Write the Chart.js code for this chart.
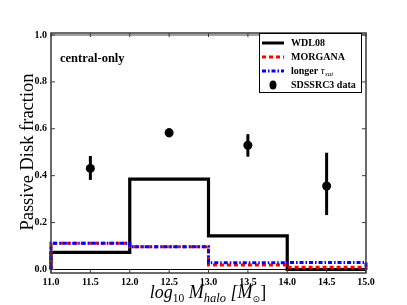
<!DOCTYPE html>
<html>
<head>
<meta charset="utf-8">
<script src="https://cdn.jsdelivr.net/npm/chart.js@4"></script>
<style>
  html, body { margin: 0; padding: 0; background: #fff; }
  #wrap { width: 407px; height: 305px; }
</style>
</head>
<body>
<div id="wrap"><canvas id="chart" width="407" height="305"></canvas></div>
<script>
// bin edges in log10 M_halo and the model fractions per bin
const binEdges = [11, 12, 13, 14, 15];
const wdl08 = [0.073, 0.385, 0.143, 0.0];
const morgana = [0.112, 0.097, 0.019, 0.009];
const longerTsat = [0.112, 0.097, 0.029, 0.030];

// SDSS data points with error bars
const sdssX = [11.5, 12.5, 13.5, 14.5];
const sdssY = [0.431, 0.583, 0.530, 0.356];
const sdssLo = [0.382, 0.564, 0.481, 0.232];
const sdssHi = [0.484, 0.602, 0.577, 0.498];

const xTicks = [11.0, 11.5, 12.0, 12.5, 13.0, 13.5, 14.0, 14.5, 15.0];
const yTicks = [0.0, 0.2, 0.4, 0.6, 0.8, 1.0];

const SERIF = '"Liberation Serif", "DejaVu Serif", serif';

function stepPoints(edges, vals) {
    const pts = [{ x: edges[0], y: 0 }];
    for (let i = 0; i < vals.length; i++) pts.push({ x: edges[i], y: vals[i] });
    pts.push({ x: edges[edges.length - 1], y: vals[vals.length - 1] });
    pts.push({ x: edges[edges.length - 1], y: 0 });
    return pts;
}

const blueDash = [4, 2, 1.5, 2];
const redDash = [4, 3];

const extras = {
    id: 'extras',
    beforeDatasetsDraw(chart) {
        const ctx = chart.ctx, xs = chart.scales.x, ys = chart.scales.y;
        ctx.save();
        // gray line at 1.0
        ctx.strokeStyle = '#a0a0a0';
        ctx.lineWidth = 2;
        ctx.beginPath();
        ctx.moveTo(xs.getPixelForValue(binEdges[0]), ys.getPixelForValue(1.0));
        ctx.lineTo(xs.getPixelForValue(binEdges[binEdges.length - 1]), ys.getPixelForValue(1.0));
        ctx.stroke();
        // closing edge of the WDL08 histogram
        ctx.strokeStyle = '#000';
        ctx.lineWidth = 1.2;
        ctx.beginPath();
        ctx.moveTo(xs.getPixelForValue(binEdges[0]), ys.getPixelForValue(0));
        ctx.lineTo(xs.getPixelForValue(binEdges[binEdges.length - 1]), ys.getPixelForValue(0));
        ctx.stroke();
        // error bars
        ctx.lineWidth = 3;
        for (let i = 0; i < sdssX.length; i++) {
            const px = xs.getPixelForValue(sdssX[i]);
            ctx.beginPath();
            ctx.moveTo(px, ys.getPixelForValue(sdssLo[i]));
            ctx.lineTo(px, ys.getPixelForValue(sdssHi[i]));
            ctx.stroke();
        }
        ctx.restore();
    },
    afterDraw(chart) {
        const ctx = chart.ctx, a = chart.chartArea, xs = chart.scales.x, ys = chart.scales.y;
        ctx.save();
        // frame
        ctx.strokeStyle = '#3a3a3a';
        ctx.lineWidth = 1.5;
        ctx.strokeRect(a.left, a.top, a.right - a.left, a.bottom - a.top);
        // inward ticks on all sides
        ctx.lineWidth = 1;
        ctx.beginPath();
        xTicks.forEach(v => {
            const px = xs.getPixelForValue(v);
            ctx.moveTo(px, a.bottom); ctx.lineTo(px, a.bottom - 4);
            ctx.moveTo(px, a.top); ctx.lineTo(px, a.top + 4);
        });
        yTicks.forEach(v => {
            const py = ys.getPixelForValue(v);
            ctx.moveTo(a.left, py); ctx.lineTo(a.left + 4, py);
            ctx.moveTo(a.right, py); ctx.lineTo(a.right - 4, py);
        });
        ctx.stroke();

        // panel label
        ctx.fillStyle = '#000';
        ctx.font = 'bold 12.5px ' + SERIF;
        ctx.textBaseline = 'alphabetic';
        ctx.textAlign = 'left';
        ctx.fillText('central-only', 60, 62);

        // legend
        const lx = 259, ly = 33, lw = 102, lh = 59;
        ctx.fillStyle = '#fff';
        ctx.fillRect(lx, ly, lw, lh);
        ctx.strokeStyle = '#000';
        ctx.lineWidth = 1;
        ctx.strokeRect(lx + 0.5, ly + 0.5, lw, lh);
        const rows = [
            { label: 'WDL08', color: '#000', dash: [] },
            { label: 'MORGANA', color: '#ff0000', dash: redDash },
            { label: 'longer', color: '#0000ff', dash: blueDash, tau: true },
            { label: 'SDSSRC3 data', dot: true }
        ];
        rows.forEach((r, i) => {
            const cy = 43 + i * 14;
            if (r.dot) {
                ctx.fillStyle = '#000';
                ctx.beginPath();
                ctx.ellipse(273, cy, 3.5, 4.5, 0, 0, Math.PI * 2);
                ctx.fill();
            } else {
                ctx.strokeStyle = r.color;
                ctx.lineWidth = 3;
                ctx.setLineDash(r.dash);
                ctx.beginPath();
                ctx.moveTo(262, cy);
                ctx.lineTo(284, cy);
                ctx.stroke();
                ctx.setLineDash([]);
            }
            ctx.fillStyle = '#000';
            ctx.font = 'bold 10px ' + SERIF;
            ctx.textBaseline = 'middle';
            ctx.fillText(r.label, 291, cy);
            if (r.tau) {
                const w = ctx.measureText(r.label + ' ').width;
                ctx.font = 'italic 10.5px ' + SERIF;
                ctx.fillText('\u03c4', 291 + w, cy);
                const tw = ctx.measureText('\u03c4').width;
                ctx.font = 'italic 7px ' + SERIF;
                ctx.fillText('sat', 291 + w + tw + 0.5, cy + 3);
            }
        });

        // y axis title
        ctx.save();
        ctx.translate(28, 152);
        ctx.rotate(-Math.PI / 2);
        ctx.textAlign = 'center';
        ctx.textBaseline = 'middle';
        ctx.font = '18.5px ' + SERIF;
        ctx.fillStyle = '#000';
        ctx.fillText('Passive Disk fraction', 0, 0);
        ctx.restore();

        // x axis title with subscripts
        const parts = [
            { t: 'log', f: 'italic 18px ', dy: 0 },
            { t: '10', f: '11.5px ', dy: 4 },
            { t: ' M', f: 'italic 18px ', dy: 0 },
            { t: 'halo', f: 'italic 12.5px ', dy: 4 },
            { t: ' [M', f: 'italic 18px ', dy: 0 },
            { t: '\u2299', f: '9px "DejaVu Sans", ', dy: 4 },
            { t: ']', f: '18px ', dy: 0 }
        ];
        let total = 0;
        parts.forEach(p => { ctx.font = p.f + SERIF; p.w = ctx.measureText(p.t).width; total += p.w; });
        let cx = 208 - total / 2;
        ctx.textAlign = 'left';
        ctx.textBaseline = 'alphabetic';
        parts.forEach(p => {
            ctx.font = p.f + SERIF;
            ctx.fillText(p.t, cx, 298 + p.dy);
            cx += p.w;
        });
        ctx.restore();
    }
};

const ctx = document.getElementById('chart').getContext('2d');
new Chart(ctx, {
    type: 'scatter',
    data: {
        datasets: [
            {
                label: 'WDL08',
                data: stepPoints(binEdges, wdl08),
                showLine: true, stepped: 'before',
                borderColor: '#000', borderWidth: 3.2,
                pointRadius: 0, clip: 6, order: 4
            },
            {
                label: 'MORGANA',
                data: stepPoints(binEdges, morgana),
                showLine: true, stepped: 'before',
                borderColor: '#ff0000', borderWidth: 3, borderDash: redDash,
                pointRadius: 0, clip: 6, order: 3
            },
            {
                label: 'longer tau_sat',
                data: stepPoints(binEdges, longerTsat),
                showLine: true, stepped: 'before',
                borderColor: '#0000ff', borderWidth: 3, borderDash: blueDash,
                pointRadius: 0, clip: 6, order: 2
            },
            {
                label: 'SDSSRC3 data',
                data: sdssX.map((x, i) => ({ x: x, y: sdssY[i] })),
                showLine: false,
                backgroundColor: '#000', borderColor: '#000',
                pointRadius: 4.5, pointBorderWidth: 0, clip: 6, order: 1
            }
        ]
    },
    options: {
        responsive: false,
        devicePixelRatio: 1,
        animation: false,
        layout: { padding: { left: 0, right: 41, top: 33, bottom: 0 } },
        plugins: { legend: { display: false }, tooltip: { enabled: false } },
        scales: {
            x: {
                type: 'linear', min: 11, max: 15,
                afterBuildTicks: s => { s.ticks = xTicks.map(v => ({ value: v })); },
                afterFit: s => { s.height = 32; },
                grid: { display: false, drawTicks: false },
                border: { display: false },
                ticks: {
                    color: '#000', padding: 3, maxRotation: 0, autoSkip: false,
                    font: { family: SERIF, weight: 'bold', size: 10 },
                    callback: v => Number(v).toFixed(1)
                }
            },
            y: {
                type: 'linear', min: -0.015, max: 1.0085,
                afterBuildTicks: s => { s.ticks = yTicks.map(v => ({ value: v })); },
                afterFit: s => { s.width = 51; },
                grid: { display: false, drawTicks: false },
                border: { display: false },
                ticks: {
                    color: '#000', padding: 4, autoSkip: false,
                    font: { family: SERIF, weight: 'bold', size: 10 },
                    callback: v => Number(v).toFixed(1)
                }
            }
        }
    },
    plugins: [extras]
});
</script>
</body>
</html>
